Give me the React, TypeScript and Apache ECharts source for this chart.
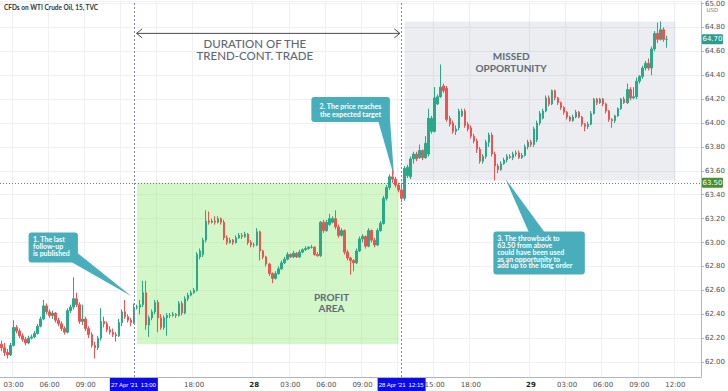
import React, { useEffect, useRef } from 'react';
import * as echarts from 'echarts';

// ---- categories: 15-minute bars, daily break 23:00-00:00 ----
const SESSIONS: [string, number, number][] = [
  ['27', 8, 91],
  ['28', 0, 91],
  ['29', 0, 56],
];
const pad = (n: number) => (n < 10 ? '0' + n : '' + n);
const CATEGORIES: string[] = [];
SESSIONS.forEach(([d, a, b]) => {
  for (let q = a; q <= b; q++) CATEGORIES.push(`${d} ${pad(Math.floor(q / 4))}:${pad((q % 4) * 15)}`);
});

// ---- OHLC [open, close, low, high] ----
const CANDLES: number[][] = [
  [62.15, 62.12, 62.09, 62.18], [62.12, 62.08, 62.05, 62.16], [62.08, 62.06, 62.03, 62.11], [62.06, 62.14, 62.05, 62.16],
  [62.14, 62.29, 62.13, 62.35], [62.29, 62.26, 62.24, 62.31], [62.26, 62.22, 62.20, 62.28], [62.22, 62.19, 62.17, 62.24],
  [62.19, 62.16, 62.14, 62.21], [62.16, 62.20, 62.15, 62.22], [62.20, 62.21, 62.19, 62.23], [62.21, 62.24, 62.20, 62.26],
  [62.24, 62.30, 62.23, 62.32], [62.30, 62.36, 62.29, 62.38], [62.36, 62.47, 62.35, 62.52], [62.47, 62.42, 62.40, 62.49],
  [62.42, 62.39, 62.37, 62.44], [62.39, 62.41, 62.36, 62.43], [62.41, 62.35, 62.33, 62.42], [62.35, 62.32, 62.30, 62.37],
  [62.32, 62.28, 62.26, 62.34], [62.28, 62.25, 62.23, 62.30], [62.25, 62.43, 62.24, 62.45], [62.43, 62.46, 62.41, 62.48],
  [62.46, 62.53, 62.44, 62.71], [62.53, 62.48, 62.46, 62.58], [62.48, 62.34, 62.32, 62.50], [62.34, 62.36, 62.31, 62.48],
  [62.36, 62.28, 62.26, 62.38], [62.28, 62.23, 62.20, 62.30], [62.23, 62.14, 62.12, 62.25], [62.14, 62.12, 62.03, 62.17],
  [62.12, 62.20, 62.10, 62.22], [62.20, 62.34, 62.18, 62.45], [62.34, 62.32, 62.29, 62.38], [62.32, 62.27, 62.25, 62.34],
  [62.27, 62.25, 62.23, 62.30], [62.25, 62.23, 62.21, 62.28], [62.23, 62.22, 62.17, 62.25], [62.22, 62.33, 62.21, 62.36],
  [62.33, 62.42, 62.30, 62.44], [62.42, 62.38, 62.36, 62.52], [62.38, 62.35, 62.33, 62.40], [62.35, 62.33, 62.30, 62.37],
  [62.33, 62.46, 62.32, 62.49],
  [62.46, 62.46, 62.44, 62.48], [62.46, 62.48, 62.40, 62.52], [62.48, 62.58, 62.46, 62.68], [62.58, 62.31, 62.27, 62.68],
  [62.31, 62.37, 62.21, 62.39], [62.37, 62.42, 62.35, 62.44], [62.42, 62.50, 62.40, 62.52], [62.50, 62.37, 62.25, 62.52],
  [62.37, 62.29, 62.27, 62.40], [62.29, 62.37, 62.27, 62.39], [62.37, 62.39, 62.22, 62.41], [62.39, 62.39, 62.37, 62.41],
  [62.39, 62.40, 62.38, 62.42], [62.40, 62.39, 62.37, 62.41], [62.39, 62.49, 62.38, 62.51], [62.49, 62.41, 62.39, 62.51],
  [62.41, 62.53, 62.40, 62.55], [62.53, 62.56, 62.51, 62.58], [62.56, 62.58, 62.55, 62.60], [62.58, 62.60, 62.57, 62.62],
  [62.60, 62.90, 62.59, 62.92], [62.88, 62.93, 62.86, 62.95], [62.90, 63.02, 62.88, 63.04], [63.02, 63.18, 63.00, 63.27],
  [63.18, 63.17, 63.15, 63.26], [63.17, 63.18, 63.16, 63.20], [63.18, 63.17, 63.15, 63.22], [63.17, 63.20, 63.16, 63.22],
  [63.20, 63.17, 63.15, 63.21], [63.17, 63.04, 63.02, 63.19], [63.04, 63.00, 62.98, 63.06], [63.00, 63.02, 62.99, 63.04],
  [63.02, 63.00, 62.98, 63.03], [63.00, 63.04, 62.99, 63.06], [63.04, 63.06, 63.03, 63.08], [63.06, 63.05, 63.03, 63.08],
  [63.05, 63.07, 63.04, 63.09], [63.07, 63.00, 62.98, 63.08], [63.00, 62.98, 62.96, 63.02], [62.98, 62.98, 62.96, 63.00],
  [62.98, 63.09, 62.97, 63.12], [63.09, 62.93, 62.85, 63.10], [62.93, 62.88, 62.86, 62.94], [62.88, 62.82, 62.80, 62.89],
  [62.82, 62.74, 62.72, 62.83], [62.74, 62.70, 62.66, 62.75], [62.70, 62.74, 62.69, 62.76], [62.74, 62.78, 62.73, 62.80],
  [62.78, 62.83, 62.77, 62.85], [62.83, 62.86, 62.82, 62.88], [62.86, 62.90, 62.85, 62.92], [62.90, 62.88, 62.87, 62.91],
  [62.88, 62.91, 62.87, 62.93], [62.91, 62.88, 62.87, 62.92], [62.88, 62.92, 62.87, 62.94], [62.92, 62.94, 62.91, 62.95],
  [62.94, 62.95, 62.93, 62.97], [62.95, 62.96, 62.94, 62.97], [62.96, 62.96, 62.95, 62.98], [62.96, 62.90, 62.89, 62.97],
  [62.90, 62.89, 62.88, 62.92], [62.89, 63.17, 62.88, 63.18], [63.17, 63.10, 63.08, 63.19], [63.10, 63.17, 63.09, 63.19],
  [63.15, 63.20, 63.14, 63.24], [63.17, 63.20, 63.16, 63.22], [63.20, 63.13, 63.11, 63.27], [63.13, 63.06, 63.04, 63.15],
  [63.06, 63.10, 63.05, 63.12], [63.10, 62.92, 62.90, 63.11], [62.92, 62.87, 62.85, 62.94], [62.87, 62.85, 62.73, 62.88],
  [62.85, 62.83, 62.76, 62.86], [62.83, 62.93, 62.82, 62.95], [62.93, 63.03, 62.92, 63.05], [63.03, 63.05, 63.00, 63.07],
  [63.05, 62.97, 62.95, 63.06], [62.97, 63.10, 62.96, 63.12], [63.10, 63.02, 63.00, 63.11], [63.02, 62.98, 62.96, 63.04],
  [62.98, 63.10, 62.97, 63.12], [63.10, 63.16, 63.09, 63.18], [63.16, 63.37, 63.15, 63.39], [63.37, 63.46, 63.35, 63.48],
  [63.46, 63.55, 63.44, 63.57], [63.55, 63.53, 63.50, 63.63], [63.53, 63.48, 63.46, 63.55], [63.48, 63.44, 63.42, 63.50],
  [63.44, 63.37, 63.34, 63.50], [63.37, 63.62, 63.35, 63.64], [63.56, 63.63, 63.54, 63.65], [63.55, 63.70, 63.53, 63.72],
  [63.70, 63.74, 63.66, 63.76], [63.74, 63.70, 63.68, 63.76], [63.71, 63.77, 63.70, 63.82], [63.77, 63.71, 63.69, 63.78],
  [63.71, 63.83, 63.70, 63.89], [63.74, 64.04, 63.72, 64.12], [63.93, 64.04, 63.91, 64.06], [63.93, 64.21, 63.92, 64.30],
  [64.16, 64.22, 64.15, 64.24], [64.22, 64.30, 64.21, 64.49], [64.31, 64.27, 64.25, 64.33], [64.29, 64.03, 64.01, 64.31],
  [64.04, 63.99, 63.97, 64.06], [64.00, 63.93, 63.91, 64.02], [63.93, 63.95, 63.90, 63.98], [63.96, 64.10, 63.94, 64.12],
  [64.06, 64.10, 64.05, 64.12], [64.10, 63.98, 63.96, 64.12], [63.99, 63.95, 63.93, 64.01], [63.96, 63.89, 63.87, 63.98],
  [63.89, 63.85, 63.83, 63.91], [63.85, 63.78, 63.75, 63.87], [63.78, 63.68, 63.66, 63.80], [63.68, 63.72, 63.66, 63.74],
  [63.72, 63.84, 63.70, 63.86], [63.84, 63.90, 63.80, 63.92], [63.90, 63.74, 63.72, 63.92], [63.74, 63.64, 63.52, 63.76],
  [63.64, 63.61, 63.58, 63.66], [63.61, 63.66, 63.60, 63.68], [63.66, 63.69, 63.65, 63.71], [63.69, 63.72, 63.67, 63.74],
  [63.72, 63.71, 63.70, 63.74], [63.71, 63.74, 63.69, 63.76], [63.74, 63.75, 63.72, 63.77], [63.75, 63.71, 63.70, 63.77],
  [63.71, 63.73, 63.70, 63.75], [63.73, 63.80, 63.72, 63.82], [63.80, 63.84, 63.78, 63.86], [63.84, 63.82, 63.80, 63.86],
  [63.82, 63.95, 63.80, 63.97], [63.86, 64.00, 63.84, 64.02], [64.00, 64.08, 63.98, 64.10], [64.04, 64.10, 64.03, 64.12],
  [64.10, 64.21, 64.09, 64.23], [64.21, 64.16, 64.14, 64.23], [64.16, 64.27, 64.15, 64.28], [64.27, 64.21, 64.19, 64.28],
  [64.21, 64.17, 64.15, 64.22], [64.17, 64.13, 64.11, 64.18], [64.13, 64.09, 64.07, 64.14], [64.09, 64.05, 64.03, 64.10],
  [64.05, 64.02, 64.01, 64.06], [64.02, 64.05, 64.01, 64.07], [64.05, 64.09, 64.04, 64.11], [64.09, 64.05, 64.04, 64.10],
  [64.05, 63.99, 63.97, 64.06], [63.99, 63.97, 63.93, 64.00], [63.97, 63.99, 63.95, 64.01], [63.99, 64.08, 63.98, 64.10],
  [64.08, 64.20, 64.07, 64.21], [64.20, 64.17, 64.15, 64.21], [64.17, 64.20, 64.16, 64.21], [64.20, 64.16, 64.14, 64.21],
  [64.16, 64.10, 64.08, 64.17], [64.10, 64.03, 64.01, 64.11], [64.03, 64.02, 63.96, 64.04], [64.02, 64.06, 64.00, 64.07],
  [64.06, 64.12, 64.05, 64.13], [64.12, 64.20, 64.11, 64.21], [64.20, 64.17, 64.16, 64.22], [64.17, 64.28, 64.16, 64.33],
  [64.28, 64.21, 64.19, 64.30], [64.21, 64.22, 64.20, 64.30], [64.22, 64.35, 64.20, 64.38], [64.35, 64.39, 64.33, 64.40],
  [64.39, 64.46, 64.37, 64.48], [64.46, 64.50, 64.44, 64.52], [64.50, 64.46, 64.44, 64.54], [64.46, 64.62, 64.40, 64.64],
  [64.62, 64.75, 64.60, 64.77], [64.75, 64.70, 64.67, 64.84], [64.70, 64.78, 64.69, 64.85], [64.78, 64.70, 64.68, 64.80],
  [64.70, 64.70, 64.63, 64.73],
];

// ---- tick labels on the time axis (those hidden under the highlight boxes are left out) ----
const X_TICK_LABELS: Record<string, string> = {
  '27 03:00': '03:00', '27 06:00': '06:00', '27 09:00': '09:00', '27 18:00': '18:00',
  '28 00:00': '28', '28 03:00': '03:00', '28 06:00': '06:00', '28 09:00': '09:00', '28 15:00': '15:00',
  '28 18:00': '18:00', '29 00:00': '29', '29 03:00': '03:00', '29 06:00': '06:00', '29 09:00': '09:00', '29 12:00': '12:00',
};
const DAY_LABELS = ['28', '29'];
const HIGHLIGHTS: [number, string, string][] = [
  [44, "27 Apr '21", '13:00'],
  [133, "28 Apr '21", '12:15'],
];

// ---- levels / zones ----
const Y_MIN = 61.875;
const Y_MAX = 65.015;
const TARGET = 63.5;
const LAST_PRICE = 64.7;
const START_BAR = 44; // 27 Apr 13:00
const TARGET_BAR = 133; // 28 Apr 12:15
const PROFIT_ZONE = { from: 45, to: 132, top: 63.5, bottom: 62.15 };
const MISSED_ZONE = { from: 134, to: 224, top: 64.85, bottom: 63.52 };

const UP = '#27a98a';
const DOWN = '#ef5350';
const TEAL = '#49aebb';
const TXT = '#5e6a78';
const FONT = 'Lato, "Open Sans", sans-serif';

export default function App() {
  const ref = useRef<HTMLDivElement>(null);
  useEffect(() => {
    document.body.style.margin = '0';
    const chart = echarts.init(ref.current!, undefined, { renderer: 'svg' });
    const option: any = {
      animation: false,
      backgroundColor: '#ffffff',
      grid: { left: 0, right: 23, top: 0, bottom: 14 },
      xAxis: {
        type: 'category',
        data: CATEGORIES,
        boundaryGap: true,
        axisLine: { lineStyle: { color: '#b2b5be' } },
        axisTick: { show: false },
        axisLabel: {
          interval: (_i: number, v: string) => v in X_TICK_LABELS,
          formatter: (v: string) => {
            const l = X_TICK_LABELS[v] || '';
            return DAY_LABELS.includes(l) ? `{d|${l}}` : l;
          },
          fontSize: 7,
          color: '#4f4f4f',
          margin: 4,
          fontFamily: 'DejaVu Sans',
          rich: { d: { fontSize: 7, fontWeight: 'bold', color: '#222', fontFamily: 'DejaVu Sans' } },
        },
        splitLine: {
          show: true,
          interval: (_i: number, v: string) => v in X_TICK_LABELS || v === '27 12:00' || v === '27 15:00' || v === '28 12:00',
          lineStyle: { color: '#eef0f4', width: 1 },
        },
      },
      yAxis: {
        type: 'value',
        position: 'right',
        min: Y_MIN,
        max: Y_MAX,
        splitNumber: 15,
        axisLine: { show: true, lineStyle: { color: '#b2b5be' } },
        axisTick: { show: true, length: 3, lineStyle: { color: '#b2b5be' } },
        axisLabel: {
          fontSize: 7,
          color: '#4f4f4f',
          margin: 4,
          fontFamily: 'DejaVu Sans',
          showMinLabel: false,
          showMaxLabel: false,
          formatter: (v: number) => v.toFixed(2),
        },
        splitLine: { lineStyle: { color: '#eef0f4' } },
      },
      series: [
        {
          type: 'candlestick',
          data: CANDLES,
          barWidth: 2,
          z: 2,
          itemStyle: { color: UP, color0: DOWN, borderColor: UP, borderColor0: DOWN, borderWidth: 1 },
        },
        {
          type: 'line',
          data: [],
          z: 5,
          silent: true,
          markArea: {
            silent: true,
            data: [
              [
                { xAxis: CATEGORIES[PROFIT_ZONE.from], yAxis: PROFIT_ZONE.top, itemStyle: { color: 'rgba(140,235,110,0.38)' } },
                { xAxis: CATEGORIES[PROFIT_ZONE.to], yAxis: PROFIT_ZONE.bottom },
              ],
              [
                { xAxis: CATEGORIES[MISSED_ZONE.from], yAxis: MISSED_ZONE.top, itemStyle: { color: 'rgba(120,125,150,0.14)' } },
                { xAxis: CATEGORIES[MISSED_ZONE.to], yAxis: MISSED_ZONE.bottom },
              ],
            ],
          },
          markLine: {
            silent: true,
            symbol: 'none',
            label: { show: false },
            data: [
              { yAxis: TARGET, lineStyle: { color: '#6f7d6f', type: [1, 2], width: 1 } },
              { xAxis: CATEGORIES[START_BAR], lineStyle: { color: '#7c86a8', type: [2, 2], width: 1 } },
              { xAxis: CATEGORIES[TARGET_BAR], lineStyle: { color: '#7c86a8', type: [2, 2], width: 1 } },
            ],
          },
        },
      ],
    };
    chart.setOption(option);

    const n = CATEGORIES.length - 1;
    const P = (idx: number, price: number): number[] => {
      const a = chart.convertToPixel({ gridIndex: 0 }, [0, price]) as number[];
      const b = chart.convertToPixel({ gridIndex: 0 }, [n, price]) as number[];
      return [a[0] + ((b[0] - a[0]) * idx) / n, a[1]];
    };
    const box = (i0: number, p0: number, i1: number, p1: number) => {
      const a = P(i0, p0);
      const b = P(i1, p1);
      return { x: a[0], y: a[1], width: b[0] - a[0], height: b[1] - a[1], r: 3 };
    };
    const z = 50;
    const g: any[] = [];

    // title
    g.push({ type: 'text', z, x: 4, y: 4, style: { text: 'CFDs on WTI Crude Oil, 15, TVC', fill: '#333', font: `bold 6.5px ${FONT}` } });

    // duration arrow
    const aL = P(START_BAR + 0.9, 64.75);
    const aR = P(TARGET_BAR - 0.6, 64.75);
    g.push({ type: 'line', z, shape: { x1: aL[0], y1: aL[1], x2: aR[0], y2: aR[1] }, style: { stroke: '#4a4a4a', lineWidth: 1 } });
    g.push({ type: 'polyline', z, shape: { points: [[aL[0] + 5.5, aL[1] - 4.5], aL, [aL[0] + 5.5, aL[1] + 4.5]] }, style: { stroke: '#4a4a4a', lineWidth: 1, fill: null } });
    g.push({ type: 'polyline', z, shape: { points: [[aR[0] - 5.5, aR[1] - 4.5], aR, [aR[0] - 5.5, aR[1] + 4.5]] }, style: { stroke: '#4a4a4a', lineWidth: 1, fill: null } });
    const dT = P(84.2, 64.615);
    g.push({ type: 'text', z, x: dT[0], y: dT[1], style: { text: 'DURATION OF THE\nTREND-CONT. TRADE', fill: TXT, font: `500 11.5px ${FONT}`, align: 'center', verticalAlign: 'middle', lineHeight: 11.5 } });

    // zone labels
    const mT = P(169.4, 64.508);
    g.push({ type: 'text', z, x: mT[0], y: mT[1], style: { text: 'MISSED\nOPPORTUNITY', fill: TXT, font: `bold 10px ${FONT}`, align: 'center', verticalAlign: 'middle', lineHeight: 12 } });
    const pT = P(109.7, 62.5);
    g.push({ type: 'text', z, x: pT[0], y: pT[1], style: { text: 'PROFIT\nAREA', fill: TXT, font: `bold 10px ${FONT}`, align: 'center', verticalAlign: 'middle', lineHeight: 11 } });

    // callout 1
    g.push({ type: 'polygon', z, shape: { points: [P(25.05, 62.917), P(23.07, 62.84), P(43.2, 62.55)] }, style: { fill: TEAL } });
    g.push({ type: 'rect', z, shape: box(9.0, 63.083, 25.4, 62.833), style: { fill: TEAL } });
    const t1 = P(10.5, 63.06);
    g.push({ type: 'text', z, x: t1[0], y: t1[1], style: { text: '1. The last\nfollow-up\nis published', fill: '#fff', font: `bold 7px ${FONT}`, lineHeight: 7, verticalAlign: 'top' } });

    // callout 2
    g.push({ type: 'polygon', z, shape: { points: [P(125.2, 64.02), P(129.1, 64.04), P(130.5, 63.55)] }, style: { fill: TEAL } });
    g.push({ type: 'rect', z, shape: box(103.0, 64.217, 129.1, 64.008), style: { fill: TEAL } });
    const t2 = P(116.0, 64.18);
    g.push({ type: 'text', z, x: t2[0], y: t2[1], style: { text: '2. The price reaches\nthe expected target', fill: '#fff', font: `bold 7px ${FONT}`, lineHeight: 8, align: 'center', verticalAlign: 'top' } });

    // callout 3
    g.push({ type: 'polygon', z, shape: { points: [P(175.4, 63.08), P(180.7, 63.08), P(167.5, 63.533)] }, style: { fill: TEAL } });
    g.push({ type: 'rect', z, shape: box(163.5, 63.092, 193.9, 62.733), style: { fill: TEAL } });
    const t3 = P(164.8, 63.065);
    g.push({ type: 'text', z, x: t3[0], y: t3[1], style: { text: '3. The throwback to\n63.50 from above\ncould have been used\nas an opportunity to\nadd up to the long order', fill: '#fff', font: `bold 7px ${FONT}`, lineHeight: 6.8, verticalAlign: 'top' } });

    // time highlight boxes
    const bottomY = P(0, Y_MIN)[1];
    HIGHLIGHTS.forEach(([i, date, time]) => {
      const c = P(i, Y_MIN);
      g.push({ type: 'rect', z, shape: { x: c[0] - 24, y: bottomY + 1, width: 48, height: 14 }, style: { fill: '#0a0aec' } });
      g.push({ type: 'text', z, x: c[0] - 9.5, y: bottomY + 7.5, style: { text: date, fill: '#fff', font: `6px "Liberation Sans"`, align: 'center', verticalAlign: 'middle' } });
      g.push({ type: 'text', z, x: c[0] + 14.5, y: bottomY + 7.5, style: { text: time, fill: '#fff', font: `6px "Liberation Sans"`, align: 'center', verticalAlign: 'middle' } });
    });

    // price tags
    const axisX = P(n + 0.5, Y_MIN)[0];
    const tag = (price: number, color: string) => {
      const c = P(n, price);
      g.push({ type: 'rect', z, shape: { x: axisX + 1, y: c[1] - 5, width: 21, height: 10, r: 1 }, style: { fill: color } });
      g.push({ type: 'text', z, x: axisX + 11.5, y: c[1], style: { text: price.toFixed(2), fill: '#fff', font: `7px "DejaVu Sans"`, align: 'center', verticalAlign: 'middle' } });
    };
    tag(LAST_PRICE, '#2a9d8f');
    tag(TARGET, '#4b8e32');
    g.push({ type: 'text', z, x: axisX + 11.5, y: 10, style: { text: 'USD', fill: '#777', font: `5.5px "DejaVu Sans"`, align: 'center', verticalAlign: 'middle' } });

    chart.setOption({ graphic: g });
    return () => chart.dispose();
  }, []);
  return <div ref={ref} style={{ width: 728, height: 391 }} />;
}
